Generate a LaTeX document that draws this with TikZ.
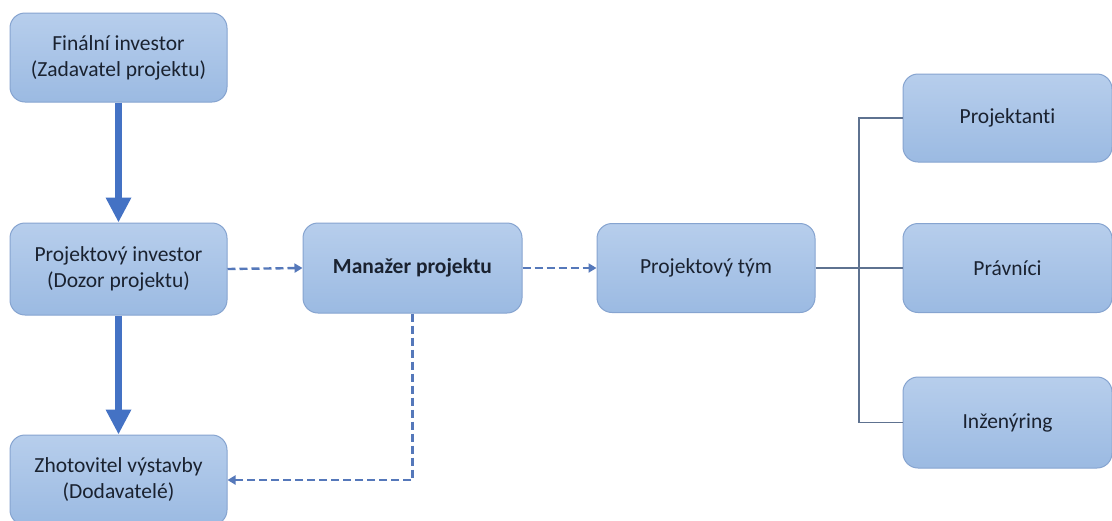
\documentclass[tikz,border=0pt]{standalone}
\usepackage{fontspec}
\setmainfont{Carlito}[RawFeature={-liga;-calt;-clig}]
\usetikzlibrary{arrows.meta}
\definecolor{boxtop}{HTML}{B7CEEC}
\definecolor{boxbot}{HTML}{9BBAE2}
\definecolor{boxline}{HTML}{86A4D0}
\definecolor{arrowblue}{HTML}{4472C4}
\definecolor{dashblue}{HTML}{5578BA}
\definecolor{linkgrey}{HTML}{5E7290}
\definecolor{txt}{HTML}{1A2230}
\tikzset{
  card/.style={draw=boxline, line width=1pt, rounded corners=15pt,
    top color=boxtop, bottom color=boxbot, align=center, text=txt,
    font=\fontsize{21.5}{26}\selectfont, inner sep=0pt},
  thickarrow/.style={draw=arrowblue, line width=7pt,
    -{Triangle[width=24pt,length=25pt]}},
  dasharrow/.style={draw=dashblue, line width=2.4pt, dash pattern=on 8pt off 4pt,
    -{Triangle[width=9pt,length=8pt]}},
  link/.style={draw=linkgrey, line width=1.2pt}
}
\begin{document}
\begin{tikzpicture}[x=1pt,y=-1pt]
\useasboundingbox (0,0) rectangle (1112,520);
\clip (0,0) rectangle (1112,520);
\fill[white] (0,0) rectangle (1112,520);

% left column
\node[card, minimum width=217pt, minimum height=89pt] (fin) at (118.5,57.5)
  {Finální investor\\(Zadavatel projektu)};
\node[card, minimum width=217pt, minimum height=92pt] (inv) at (118.5,269)
  {Projektový investor\\(Dozor projektu)};
\node[card, minimum width=217pt, minimum height=90pt] (zho) at (118.5,480)
  {Zhotovitel výstavby\\(Dodavatelé)};

% middle row
\node[card, minimum width=219pt, minimum height=90pt, font=\fontsize{21.5}{26}\selectfont\bfseries] (man) at (412.5,268)
  {Manažer projektu};
\node[card, minimum width=218pt, minimum height=89pt] (tym) at (706,268)
  {Projektový tým};

% team members
\node[card, minimum width=209pt, minimum height=88pt] (pro) at (1007.5,118)
  {Projektanti};
\node[card, minimum width=209pt, minimum height=89pt] (prv) at (1007.5,268)
  {Právníci};
\node[card, minimum width=209pt, minimum height=91pt] (inz) at (1007.5,422.5)
  {Inženýring};

% hierarchy arrows
\draw[thickarrow] (fin.south) -- (inv.north);
\draw[thickarrow] (inv.south) -- (zho.north);

% dashed flows
\draw[dasharrow] (inv.east) -- (man.west);
\draw[dasharrow] (man.east) -- (tym.west);
\draw[dasharrow] (man.south) |- (zho.east);

% team bracket
\coordinate (bus) at (859,268);
\draw[link] (tym.east) -- (prv.west);
\draw[link] (pro.west) -| (bus |- inz.west) -- (inz.west);
\end{tikzpicture}
\end{document}
